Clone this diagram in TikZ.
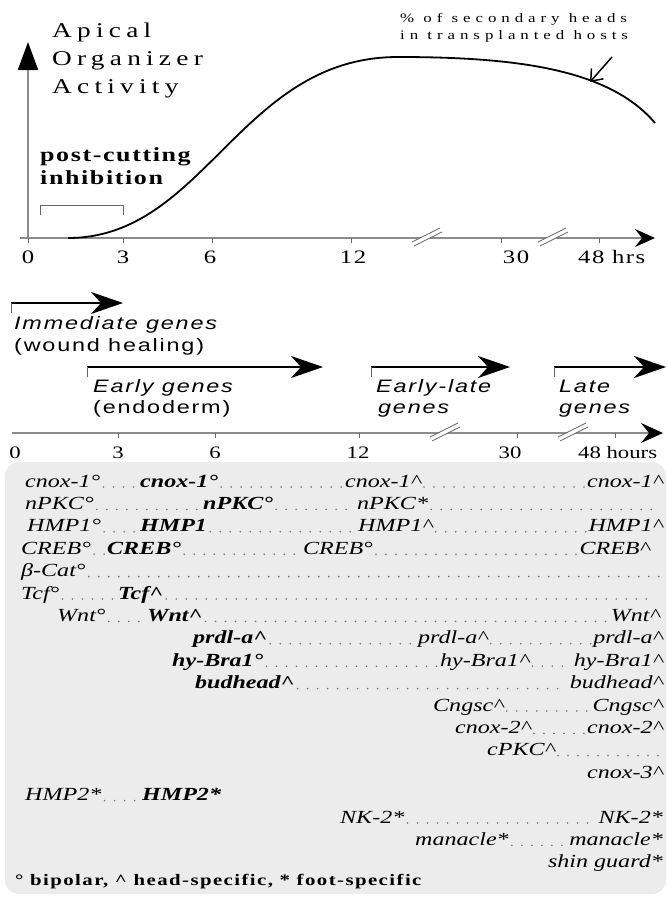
\documentclass[tikz,border=0pt]{standalone}
\usepackage{fontspec}
\setmainfont{Liberation Serif}[FakeStretch=1.3]
\newfontfamily\spacedfont{Liberation Serif}[FakeStretch=1.3,LetterSpace=25]
\newfontfamily\phasefont{Liberation Sans}[FakeStretch=1.3,LetterSpace=10]
\usetikzlibrary{arrows.meta}
\newcommand{\headmk}{\textasciicircum}

\begin{document}
\begin{tikzpicture}[x=1pt,y=-1pt,
  axisline/.style={draw=black!45, line width=2pt},
  tickmark/.style={draw=black!60, line width=1pt},
  ticklbl/.style={font=\fontsize{18}{18}\selectfont, anchor=base, inner sep=0pt},
  phase/.style={line width=2.4pt, -{Stealth[length=32pt,width=22pt,inset=10pt]}},
  phasetick/.style={draw=black!60, line width=0.8pt},
  phaselbl/.style={font=\phasefont\fontsize{18}{18}\selectfont\itshape, anchor=base west, inner sep=0pt},
  gene/.style={font=\fontsize{18.5}{18}\selectfont\itshape, anchor=base west, inner sep=0pt},
  geneb/.style={gene, font=\fontsize{18.5}{18}\selectfont\bfseries\itshape},
  leader/.style={draw=black!55, line width=1.8pt, line cap=round, dash pattern=on 0pt off 10pt, shorten <=3pt, shorten >=2pt}
]
  \useasboundingbox (0,0) rectangle (667,897);
  % Gene panel
  \fill[gray!15, rounded corners=14pt] (5,462) rectangle (666,894);

  % Activity axes
  \coordinate (o) at (28,238);
  \coordinate (ytop) at (28,42);
  \coordinate (xs) at (20,238);
  \coordinate (xe) at (655,238);
  \draw[axisline, -{Triangle[length=28pt,width=20pt,color=black]}] (o) -- (ytop);
  \draw[axisline, -{Stealth[length=20pt,width=18pt,inset=7pt,color=black]}] (xs) -- (xe);
  \foreach \x in {28,123,212,351,501,599}
    \draw[tickmark] (\x,238) -- (\x,243);
  \foreach \x in {427,553} {
    \draw[white, line width=4pt] (\x-14,244) -- (\x+14,230);
    \draw[black!60, line width=0.7pt] (\x-15,242) -- (\x+13,228);
    \draw[black!60, line width=0.7pt] (\x-13,246) -- (\x+15,232);
  }
  \begin{scope}[every node/.style={ticklbl, font=\fontsize{19}{19}\selectfont\addfontfeature{LetterSpace=8}}]
    \node (u0) at (28,263) {0};
    \node (u3) at (123,263) {3};
    \node (u6) at (210,263) {6};
    \node (u12) at (353,263) {12};
    \node (u30) at (516,263) {30};
    \node[anchor=base west] (u48) at (578,263) {48 hrs};
  \end{scope}
  \node[font=\spacedfont\fontsize{21}{21}\selectfont, anchor=base west, inner sep=0pt] (ap1) at (52,37) {Apical};
  \node[font=\spacedfont\fontsize{21}{21}\selectfont, anchor=base west, inner sep=0pt] (ap2) at (52,65) {Organizer};
  \node[font=\spacedfont\fontsize{21}{21}\selectfont, anchor=base west, inner sep=0pt] (ap3) at (52,93) {Activity};

  % Activity curve
  \coordinate (c0) at (68,238);
  \coordinate (cpeak) at (398,57);
  \coordinate (c1) at (655,123);
  \draw[line width=1.8pt] (c0) .. controls (205,238) and (240,57) .. (cpeak)
    .. controls (520,57) and (610,70) .. (c1);
  \node[font=\spacedfont\fontsize{13}{13}\selectfont\addfontfeature{LetterSpace=38}, anchor=base west, inner sep=0pt] (pct1) at (400,22) {\% of secondary heads};
  \node[font=\spacedfont\fontsize{13}{13}\selectfont\addfontfeature{LetterSpace=38}, anchor=base west, inner sep=0pt] (pct2) at (400,39) {in transplanted hosts};
  \coordinate (ptr) at (612,57);
  \coordinate (hit) at (590,82);
  \draw[line width=1.5pt, -{Straight Barb[length=10pt,width=16pt]}] (ptr) -- (hit);

  % Post-cutting inhibition
  \node[font=\fontsize{20}{20}\selectfont\bfseries\addfontfeature{LetterSpace=8}, anchor=base west, inner sep=0pt] (pc1) at (40,161) {post-cutting};
  \node[font=\fontsize{20}{20}\selectfont\bfseries\addfontfeature{LetterSpace=8}, anchor=base west, inner sep=0pt] (pc2) at (40,184) {inhibition};
  \coordinate (br1) at (40,215);
  \coordinate (br2) at (123,215);
  \draw[black!60, line width=1pt] (br1) -- ++(0,-10) -| (br2);

  % Gene classes
  \coordinate (im0) at (11,303);  \coordinate (im1) at (123,303);
  \coordinate (ea0) at (87,367);  \coordinate (ea1) at (323,367);
  \coordinate (el0) at (371,367); \coordinate (el1) at (510,367);
  \coordinate (la0) at (554,367); \coordinate (la1) at (666,367);
  \foreach \s/\e in {im0/im1,ea0/ea1,el0/el1,la0/la1} {
    \draw[phase] (\s) -- (\e);
    \draw[phasetick] (\s) -- ++(0,10);
  }
  \node[phaselbl] (imm1) at (14,329) {Immediate genes};
  \node[phaselbl, font=\phasefont\fontsize{18}{18}\selectfont] (imm2) at (14,351) {(wound healing)};
  \node[phaselbl] (ear1) at (93,392) {Early genes};
  \node[phaselbl, font=\phasefont\fontsize{18}{18}\selectfont] (ear2) at (93,413) {(endoderm)};
  \node[phaselbl] (elt1) at (376,392) {Early-late};
  \node[phaselbl] (elt2) at (378,413) {genes};
  \node[phaselbl] (lat1) at (559,392) {Late};
  \node[phaselbl] (lat2) at (559,413) {genes};

  % Time axis
  \coordinate (ts) at (12,433);
  \coordinate (te) at (663,433);
  \draw[axisline, line width=1.6pt, -{Stealth[length=22pt,width=20pt,inset=8pt,color=black]}] (ts) -- (te);
  \foreach \x in {118,215,359,517,615}
    \draw[tickmark] (\x,433) -- (\x,438);
  \foreach \x in {445,573} {
    \draw[white, line width=4pt] (\x-14,439) -- (\x+14,425);
    \draw[black!60, line width=0.7pt] (\x-15,437) -- (\x+13,423);
    \draw[black!60, line width=0.7pt] (\x-13,441) -- (\x+15,427);
  }
  \begin{scope}[every node/.style={ticklbl, font=\fontsize{17.5}{17.5}\selectfont}]
    \node (h0) at (15,458) {0};
    \node (h3) at (118,458) {3};
    \node (h6) at (215,458) {6};
    \node (h12) at (358,458) {12};
    \node (h30) at (510,458) {30};
    \node[anchor=base west] (h48) at (578,458) {48 hours};
  \end{scope}

  % Gene rows
  \node[gene] (c1a) at (25,487) {cnox-1°};
  \node[geneb] (c1b) at (140,487) {cnox-1°};
  \node[gene] (c1c) at (345,487) {cnox-1\headmk};
  \node[gene, anchor=base east] (c1d) at (663,487) {cnox-1\headmk};
  \draw[leader] (c1a.base east) -- (c1b.base west);
  \draw[leader] (c1b.base east) -- (c1c.base west);
  \draw[leader] (c1c.base east) -- (c1d.base west);

  \node[gene] (pk1a) at (25,509.4) {nPKC°};
  \node[geneb] (pk1b) at (203,509.4) {nPKC°};
  \node[gene] (pk1c) at (357,509.4) {nPKC*};
  \coordinate (pk1e) at (657,509.4);
  \draw[leader] (pk1a.base east) -- (pk1b.base west);
  \draw[leader] (pk1b.base east) -- (pk1c.base west);
  \draw[leader] (pk1c.base east) -- (pk1e);

  \node[gene] (hm1a) at (27,531.8) {HMP1°};
  \node[geneb] (hm1b) at (140,531.8) {HMP1};
  \node[gene] (hm1c) at (358,531.8) {HMP1\headmk};
  \node[gene, anchor=base east] (hm1d) at (663,531.8) {HMP1\headmk};
  \draw[leader] (hm1a.base east) -- (hm1b.base west);
  \draw[leader] (hm1b.base east) -- (hm1c.base west);
  \draw[leader] (hm1c.base east) -- (hm1d.base west);

  \node[gene] (cra) at (21,554.2) {CREB°};
  \node[geneb] (crb) at (107,554.2) {CREB°};
  \node[gene, anchor=base east] (crc) at (373,554.2) {CREB°};
  \node[gene, anchor=base east] (crd) at (650,554.2) {CREB\headmk};
  \draw[leader] (cra.base east) -- (crb.base west);
  \draw[leader] (crb.base east) -- (crc.base west);
  \draw[leader] (crc.base east) -- (crd.base west);

  \node[gene] (bca) at (21,576.6) {β-Cat°};
  \coordinate (bce) at (663,576.6);
  \draw[leader] (bca.base east) -- (bce);

  \node[gene] (tca) at (21,599) {Tcf°};
  \node[geneb] (tcb) at (118,599) {Tcf\headmk};
  \coordinate (tce) at (650,599);
  \draw[leader] (tca.base east) -- (tcb.base west);
  \draw[leader] (tcb.base east) -- (tce);

  \node[gene] (wna) at (57,621.4) {Wnt°};
  \node[geneb] (wnb) at (147,621.4) {Wnt\headmk};
  \node[gene, anchor=base east] (wnd) at (660,621.4) {Wnt\headmk};
  \draw[leader] (wna.base east) -- (wnb.base west);
  \draw[leader] (wnb.base east) -- (wnd.base west);

  \node[geneb] (pra) at (193,643.8) {prdl-a\headmk};
  \node[gene] (prc) at (418,643.8) {prdl-a\headmk};
  \node[gene, anchor=base east] (prd) at (663,643.8) {prdl-a\headmk};
  \draw[leader] (pra.base east) -- (prc.base west);
  \draw[leader] (prc.base east) -- (prd.base west);

  \node[geneb] (hba) at (172,666.2) {hy-Bra1°};
  \node[gene] (hbc) at (440,666.2) {hy-Bra1\headmk};
  \node[gene, anchor=base east] (hbd) at (663,666.2) {hy-Bra1\headmk};
  \draw[leader] (hba.base east) -- (hbc.base west);
  \draw[leader] (hbc.base east) -- (hbd.base west);

  \node[geneb] (bha) at (195,688.6) {budhead\headmk};
  \node[gene, anchor=base east] (bhd) at (663,688.6) {budhead\headmk};
  \draw[leader] (bha.base east) -- (bhd.base west);

  \node[gene] (cga) at (433,711) {Cngsc\headmk};
  \node[gene, anchor=base east] (cgd) at (663,711) {Cngsc\headmk};
  \draw[leader] (cga.base east) -- (cgd.base west);

  \node[gene] (c2a) at (455,733.4) {cnox-2\headmk};
  \node[gene, anchor=base east] (c2d) at (663,733.4) {cnox-2\headmk};
  \draw[leader] (c2a.base east) -- (c2d.base west);

  \node[gene] (cpa) at (487,755.8) {cPKC\headmk};
  \coordinate (cpe) at (663,755.8);
  \draw[leader] (cpa.base east) -- (cpe);

  \node[gene, anchor=base east] (c3d) at (663,778.2) {cnox-3\headmk};

  \node[gene] (hm2a) at (25,800.6) {HMP2*};
  \node[geneb] (hm2b) at (142,800.6) {HMP2*};
  \draw[leader] (hm2a.base east) -- (hm2b.base west);

  \node[gene] (nka) at (340,823) {NK-2*};
  \node[gene, anchor=base east] (nkd) at (663,823) {NK-2*};
  \draw[leader] (nka.base east) -- (nkd.base west);

  \node[gene] (mna) at (415,845.4) {manacle*};
  \node[gene, anchor=base east] (mnd) at (663,845.4) {manacle*};
  \draw[leader] (mna.base east) -- (mnd.base west);

  \node[gene, anchor=base east] (shd) at (663,867.8) {shin guard*};

  % Key
  \node[font=\fontsize{16}{16}\selectfont\bfseries\addfontfeature{LetterSpace=9}, anchor=base west, inner sep=0pt] (key) at (15,885) {° bipolar, \headmk{} head-specific, * foot-specific};
\end{tikzpicture}
\end{document}
